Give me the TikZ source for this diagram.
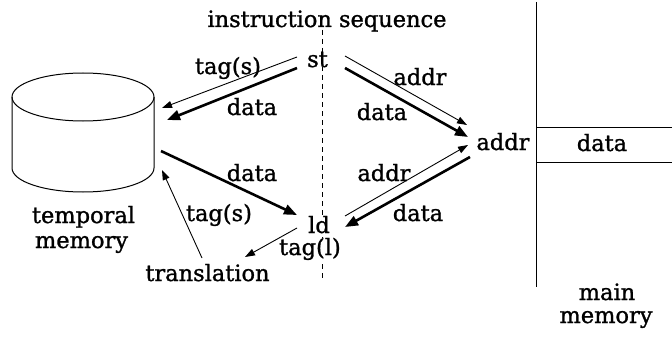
\documentclass[tikz,border=0pt]{standalone}
\usepackage{fontspec}
\setmainfont{DejaVu Serif}[BoldFont={DejaVu Serif},BoldFeatures={FakeBold=1.2}]
\usetikzlibrary{arrows.meta}
\begin{document}
\begin{tikzpicture}[x=1pt,y=-1pt,
  lbl/.style={inner sep=0pt,anchor=base,font=\fontsize{22.5}{25}\selectfont\bfseries},
  masked/.style={lbl,fill=white,inner xsep=1pt},
  thin arrow/.style={line width=0.9pt,-{Triangle[length=10pt,width=7pt]}},
  thick arrow/.style={line width=2.6pt,-{Triangle[length=13pt,width=10pt]}},
  plain/.style={line width=1pt}]
\useasboundingbox (0,0) rectangle (672,337);
% title and dashed sequence line
\node[lbl] (title) at (327,27) {instruction sequence};
\coordinate (seqtop) at (322,30);
\coordinate (seqbot) at (322,280);
\draw[plain,dash pattern=on 5pt off 4pt] (seqtop) -- (seqbot);
% temporal memory cylinder
\draw[plain] (83,97) ellipse [x radius=71, y radius=24];
\draw[plain] (12,97) -- (12,168) arc [start angle=180, end angle=0, x radius=71, y radius=24] -- (154,97);
\node[lbl] (tm1) at (83.5,223) {temporal};
\node[lbl] (tm2) at (81.5,248) {memory};
% main memory
\coordinate (mmtop) at (536,2);
\coordinate (mmbot) at (536,287);
\draw[plain] (mmtop) -- (mmbot);
\coordinate (r1a) at (536,127); \coordinate (r1b) at (672,127);
\coordinate (r2a) at (536,162); \coordinate (r2b) at (672,162);
\draw[plain] (r1a) -- (r1b);
\draw[plain] (r2a) -- (r2b);
\node[lbl] (mdata) at (602,151) {data};
\node[lbl] (mm1) at (607,300) {main};
\node[lbl] (mm2) at (606,323) {memory};
% instruction nodes
\node[masked] (st) at (317.5,67) {st};
\node[masked] (ld) at (319,233) {ld};
\node[masked] (tagl) at (310,255) {tag(l)};
\node[lbl] (trans) at (207.5,281) {translation};
\node[lbl] (addr) at (503,150) {addr};
% connector end points
\coordinate (a1s) at (297,57);  \coordinate (a1e) at (162,108);
\coordinate (a2s) at (297,68);  \coordinate (a2e) at (167,120);
\coordinate (a3s) at (161,151); \coordinate (a3e) at (297,215);
\coordinate (a4s) at (202,258); \coordinate (a4e) at (162,170);
\coordinate (a5s) at (297,228); \coordinate (a5e) at (245,257);
\coordinate (a6s) at (345,56);  \coordinate (a6e) at (467,125);
\coordinate (a7s) at (345,68);  \coordinate (a7e) at (468,137);
\coordinate (a8s) at (345,216); \coordinate (a8e) at (468,145);
\coordinate (a9s) at (470,157); \coordinate (a9e) at (345,227);
\draw[thin arrow] (a1s) -- (a1e);
\draw[thick arrow] (a2s) -- (a2e);
\draw[thick arrow] (a3s) -- (a3e);
\draw[thin arrow] (a4s) -- (a4e);
\draw[thin arrow] (a5s) -- (a5e);
\draw[thin arrow] (a6s) -- (a6e);
\draw[thick arrow] (a7s) -- (a7e);
\draw[thin arrow] (a8s) -- (a8e);
\draw[thick arrow] (a9s) -- (a9e);
% connector labels
\node[lbl] (l1) at (228,74) {tag(s)};
\node[lbl] (l2) at (252,115) {data};
\node[lbl] (l3) at (252,181) {data};
\node[lbl] (l4) at (219,221) {tag(s)};
\node[lbl] (l6) at (420,85) {addr};
\node[lbl] (l7) at (382,120) {data};
\node[lbl] (l8) at (384,181) {addr};
\node[lbl] (l9) at (418,221) {data};
\end{tikzpicture}
\end{document}
